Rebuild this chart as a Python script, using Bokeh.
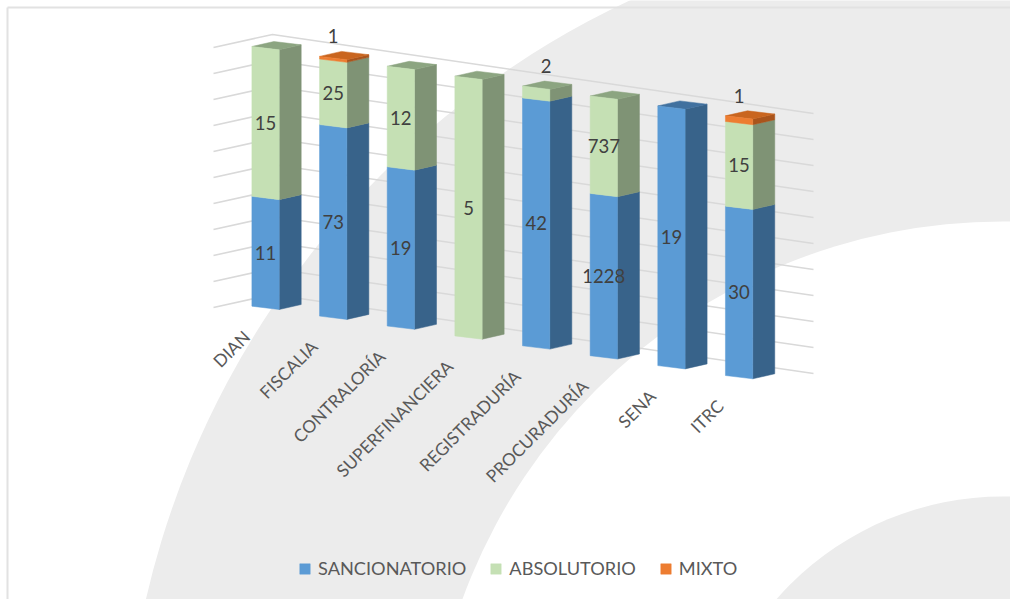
from bokeh.embed import file_html
from bokeh.resources import INLINE
from bokeh.plotting import figure
from bokeh.models import ColumnDataSource, Range1d, Legend, LegendItem
from bokeh.core.properties import value

categories = ["DIAN", "FISCALIA", "CONTRALORÍA", "SUPERFINANCIERA",
              "REGISTRADURÍA", "PROCURADURÍA", "SENA", "ITRC"]
sancionatorio = [11, 73, 19, 0, 42, 1228, 19, 30]
absolutorio = [15, 25, 12, 5, 2, 737, 0, 15]
mixto = [0, 1, 0, 0, 0, 0, 0, 1]
series_names = ["SANCIONATORIO", "ABSOLUTORIO", "MIXTO"]
grid_shares = [0.0, 0.1, 0.2, 0.3, 0.4, 0.5, 0.6, 0.7, 0.8, 0.9, 1.0]

FRONT = ["#5b9bd5", "#c5e0b4", "#ed7d31"]
SIDE = ["#38638a", "#7f9375", "#a9541c"]
TOP = ["#41719f", "#8ca581", "#c9651f"]
FONT = "Lato"

p = figure(width=1010, height=599, output_backend="svg", toolbar_location=None,
           x_range=Range1d(0, 1010), y_range=Range1d(599, 0),
           min_border=0, outline_line_color=None, background_fill_color="white",
           border_fill_color="white")
p.axis.visible = False
p.grid.visible = False

# decorative concentric rings of the chart style
for radius, colour in [(879, "#ececec"), (575, "#ffffff"), (300, "#ececec")]:
    p.circle(x=[1002], y=[796], radius=radius, fill_color=colour, line_color=None)

# chart area frame (left and top edge)
p.line([7, 7], [7, 599], line_color="#e2e2e2", line_width=2)
p.line([7, 1010], [7, 7], line_color="#e2e2e2", line_width=2)

# oblique projection of the 3D chart
BAR_H = 259.7
STEP_X, STEP_Y = 67.65, 9.9
X0, Y0 = 251.4, 305.7
FW_X, FW_Y = 27.3, 3.3
SD_X, SD_Y = 22.0, -5.0


def bar_base(i):
    return X0 + STEP_X * i, Y0 + STEP_Y * i


# walls
wall_left_x, wall_apex_x, wall_right_x = 213, 272, 813
for s in grid_shares:
    dy = 260 * s
    p.line([wall_left_x, wall_apex_x, wall_right_x],
           [307 - dy, 294 - dy, 373 - dy],
           line_color="#d9d9d9", line_width=1.5)

data = [sancionatorio, absolutorio, mixto]
fronts = [{"xs": [], "ys": []} for _ in data]
sides = {"xs": [], "ys": [], "c": []}
tops = {"xs": [], "ys": [], "c": []}
lab = {"x": [], "y": [], "t": []}

for i, cat in enumerate(categories):
    vals = [d[i] for d in data]
    total = sum(vals)
    bx, by = bar_base(i)
    cum = 0
    last = max(k for k, v in enumerate(vals) if v > 0)
    for k, v in enumerate(vals):
        if v == 0:
            continue
        y1 = by - BAR_H * cum / total
        cum += v
        y2 = by - BAR_H * cum / total
        fronts[k]["xs"].append([bx, bx + FW_X, bx + FW_X, bx])
        fronts[k]["ys"].append([y1, y1 + FW_Y, y2 + FW_Y, y2])
        rx = bx + FW_X
        sides["xs"].append([rx, rx + SD_X, rx + SD_X, rx])
        sides["ys"].append([y1 + FW_Y, y1 + FW_Y + SD_Y, y2 + FW_Y + SD_Y, y2 + FW_Y])
        sides["c"].append(SIDE[k])
        if k == last:
            tops["xs"].append([bx, rx, rx + SD_X, bx + SD_X])
            tops["ys"].append([y2, y2 + FW_Y, y2 + FW_Y + SD_Y, y2 + SD_Y])
            tops["c"].append(TOP[k])
        share = v / total
        if share < 0.05:
            # thin slices carry their label above the bar
            nudge = 10 if k == 1 else 0
            lab["x"].append(bx + FW_X / 2 + nudge)
            lab["y"].append(by - BAR_H - 20)
        else:
            lab["x"].append(bx + FW_X / 2)
            lab["y"].append((y1 + y2) / 2 + 1.6)
        lab["t"].append(str(v))

p.patches("xs", "ys", source=ColumnDataSource(sides), fill_color="c", line_color="c", line_width=0.5)
p.patches("xs", "ys", source=ColumnDataSource(tops), fill_color="c", line_color="c", line_width=0.5)
front_r = []
for k in range(3):
    front_r.append(p.patches("xs", "ys", source=ColumnDataSource(fronts[k]),
                             fill_color=FRONT[k], line_color=FRONT[k], line_width=0.5))

p.text("x", "y", text="t", source=ColumnDataSource(lab), text_font=value(FONT),
       text_font_size="18.5px", text_color="#404040", text_align="center",
       text_baseline="middle")

cat_x = [bar_base(i)[0] - 5.2 for i in range(len(categories))]
cat_y = [bar_base(i)[1] + 27.5 for i in range(len(categories))]
p.text(cat_x, cat_y, text=categories, text_font=value(FONT), text_font_size="17.4px",
       text_color="#595959", text_align="right", text_baseline="middle",
       angle=0.7854)

legend = Legend(items=[LegendItem(label=n, renderers=[r]) for n, r in zip(series_names, front_r)],
                orientation="horizontal", location=(298, 20), border_line_color=None,
                background_fill_alpha=0, label_text_font=FONT, label_text_font_size="18.2px",
                label_text_color="#595959", glyph_width=13, glyph_height=13,
                spacing=23, label_standoff=7, margin=0, padding=6)
p.add_layout(legend, "center")

open("out.html", "w").write(file_html(p, INLINE))
